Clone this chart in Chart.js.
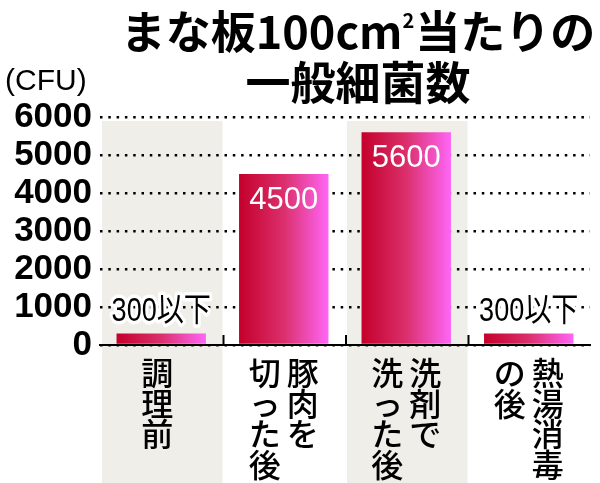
<!DOCTYPE html>
<html>
<head>
<meta charset="utf-8">
<script src="https://cdn.jsdelivr.net/npm/chart.js@4"></script>
<style>
  body { margin: 0; background: #fff; }
  #wrap { width: 600px; height: 483px; }
</style>
</head>
<body>
<div id="wrap"><canvas id="myChart" width="600" height="483"></canvas></div>
<script>
// data
var categories = [['調理前'], ['豚肉を', '切った後'], ['洗剤で', '洗った後'], ['熱湯消毒', 'の後']];
var counts = [300, 4500, 5600, 300];
var valueLabels = ['300以下', '4500', '5600', '300以下'];
var yTicks = [0, 1000, 2000, 3000, 4000, 5000, 6000];
var shadedColumns = [0, 2];

var barPct = 0.73;
var cjk = '"Noto Sans CJK JP", sans-serif';

function barGradient(c) {
     var chart = c.chart;
     var x = chart.scales.x;
     if (!x || c.dataIndex === undefined) return '#d4145a';
     var center = x.getPixelForValue(c.dataIndex);
     var half = x.width / categories.length * barPct / 2;
     if (!isFinite(center) || !isFinite(half) || half <= 0) return '#d4145a';
     var g = chart.ctx.createLinearGradient(center - half, 0, center + half, 0);
     g.addColorStop(0, '#c4002a');
     g.addColorStop(0.5, '#db2f6c');
     g.addColorStop(1, '#ff66f6');
     return g;
}

// gray bands behind 1st and 3rd category, running down through the labels
var bands = {
     id: 'bands',
     beforeDraw: function(chart) {
          var ctx = chart.ctx, x = chart.scales.x, area = chart.chartArea;
          var colW = x.width / categories.length;
          ctx.save();
          ctx.fillStyle = '#efeee9';
          shadedColumns.forEach(function(i) {
               var l = x.left + i * colW + 2;
               ctx.fillRect(l, area.top + 4, colW - 2, chart.height - area.top - 4);
          });
          ctx.restore();
     }
};

// titles, unit, value labels, vertical category labels, tick marks
var decor = {
     id: 'decor',
     afterDraw: function(chart) {
          var ctx = chart.ctx, x = chart.scales.x, y = chart.scales.y, area = chart.chartArea;
          var colW = x.width / categories.length;
          ctx.save();

          // title line 1 with superscript 2
          ctx.fillStyle = '#000';
          ctx.textBaseline = 'middle';
          ctx.font = 'bold 45px ' + cjk;
          var a = 'まな板100cm', b = '当たりの';
          var supFont = 'bold 20px ' + cjk;
          var wa = ctx.measureText(a).width, wb = ctx.measureText(b).width;
          ctx.font = supFont;
          var ws = ctx.measureText('2').width + 1;
          var start = 358 - (wa + ws + wb) / 2;
          ctx.font = 'bold 45px ' + cjk;
          ctx.textAlign = 'left';
          ctx.fillText(a, start, 32);
          ctx.fillText(b, start + wa + ws, 32);
          ctx.font = supFont;
          ctx.fillText('2', start + wa, 20);
          // title line 2
          ctx.font = 'bold 45px ' + cjk;
          ctx.textAlign = 'center';
          ctx.fillText('一般細菌数', 358, 83);

          // unit
          ctx.font = '30px "Liberation Sans", sans-serif';
          ctx.textAlign = 'left';
          ctx.fillText('(CFU)', 5, 82);

          // ticks between categories, above the axis
          ctx.strokeStyle = '#000';
          ctx.lineWidth = 2;
          for (var k = 1; k < categories.length; k++) {
               var bx = x.left + k * colW + 1;
               ctx.beginPath();
               ctx.moveTo(bx, area.bottom - 10);
               ctx.lineTo(bx, area.bottom);
               ctx.stroke();
          }

          // value labels
          ctx.textAlign = 'center';
          var meta = chart.getDatasetMeta(0);
          meta.data.forEach(function(bar, i) {
               if (counts[i] >= 1000) {
                    ctx.font = '31px "Liberation Sans", sans-serif';
                    ctx.fillStyle = '#fff';
                    ctx.fillText(valueLabels[i], bar.x, bar.y + 26);
               } else {
                    // condensed label with a white halo
                    ctx.save();
                    ctx.translate(bar.x, bar.y - 22);
                    ctx.scale(0.82, 1);
                    ctx.font = '33px "Liberation Sans", ' + cjk;
                    ctx.lineWidth = 7;
                    ctx.lineJoin = 'round';
                    ctx.strokeStyle = '#fff';
                    ctx.strokeText(valueLabels[i], 0, 0);
                    ctx.fillStyle = '#000';
                    ctx.fillText(valueLabels[i], 0, 0);
                    ctx.restore();
               }
          });

          // vertical category labels, first line on the right
          ctx.font = '500 32px ' + cjk;
          ctx.fillStyle = '#000';
          categories.forEach(function(lines, i) {
               var cx = x.getPixelForValue(i);
               lines.forEach(function(line, j) {
                    var lx = lines.length === 1 ? cx - 4 : cx + 19 - j * 38;
                    Array.from(line).forEach(function(ch, n) {
                         ctx.fillText(ch, lx, area.bottom + 28 + n * 30.5);
                    });
               });
          });
          ctx.restore();
     }
};

window.addEventListener('DOMContentLoaded', (event) => {
     var ctx = document.getElementById('myChart').getContext('2d');
     var chart = new Chart(ctx, {
          type: 'bar',
          data: {
               labels: categories,
               datasets: [{
                    data: counts,
                    backgroundColor: barGradient,
                    borderWidth: 0,
                    barPercentage: barPct,
                    categoryPercentage: 1
               }]
          },
          options: {
               responsive: false,
               animation: false,
               layout: { padding: { top: 117, left: 8, right: 10, bottom: 138 } },
               plugins: {
                    legend: { display: false },
                    title: { display: false },
                    tooltip: { enabled: false }
               },
               scales: {
                    x: {
                         ticks: { display: false },
                         grid: { display: true, drawOnChartArea: false, drawTicks: false },
                         border: { display: true, color: '#000', width: 2 },
                         afterFit: function(s) { s.height = 0; }
                    },
                    y: {
                         min: yTicks[0],
                         max: yTicks[yTicks.length - 1],
                         afterBuildTicks: function(s) {
                              s.ticks = yTicks.map(function(v) { return { value: v }; });
                         },
                         afterFit: function(s) { s.width = 92; },
                         ticks: {
                              color: '#000',
                              padding: 8,
                              autoSkip: false,
                              stepSize: 1000,
                              callback: function(v) { return String(v); },
                              font: { family: '"Liberation Sans", sans-serif', size: 35, weight: 'bold' }
                         },
                         grid: { color: '#000', lineWidth: 2.5, drawTicks: false },
                         border: { display: false, dash: [2.5, 5.8] }
                    }
               }
          },
          plugins: [bands, decor]
     });
});
</script>
</body>
</html>
